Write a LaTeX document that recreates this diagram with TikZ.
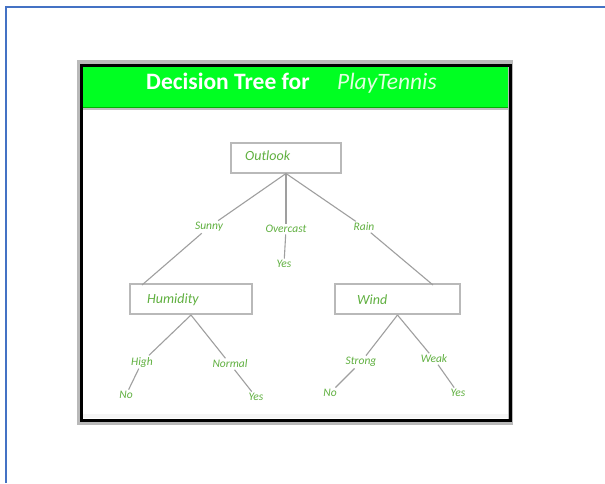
\documentclass[tikz,border=0pt]{standalone}
\usepackage{fontspec}
\setmainfont{Carlito}
\definecolor{lblgreen}{RGB}{96,176,64}
\definecolor{pageblue}{RGB}{68,114,196}
\definecolor{bandgreen}{RGB}{0,255,34}
\begin{document}
\begin{tikzpicture}[x=1pt,y=-1pt,
  attr/.style={draw=gray!55,line width=2pt,minimum width=#1,minimum height=30,inner sep=0pt},
  lbl/.style={text=lblgreen,font=\itshape\fontsize{11.5}{13}\selectfont,inner sep=1.5pt},
  ttl/.style={text=lblgreen,font=\itshape\fontsize{14}{16}\selectfont,inner sep=0pt},
  edge/.style={draw=gray!75,line width=1.1pt}]
\useasboundingbox (0,0) rectangle (605,483);
\fill[white] (0,0) rectangle (605,483);
% blue page frame
\draw[pageblue,line width=2.2pt] (6,483) -- (6,7) -- (605,7);
% outer frame
\fill[gray!55] (77,60) rectangle (513,425);
\fill[white] (82,66) rectangle (508,419);
\fill[gray!8] (82,414) rectangle (508,418);
\fill[bandgreen] (82,66) rectangle (508,107);
\draw[green!70!black,line width=1pt] (82,107) -- (508,107);
\draw[gray!50,line width=1.2pt] (82,109) -- (508,109);
\draw[black,line width=3pt] (81,65) rectangle (510,420);
\node[text=white,font=\bfseries\fontsize{23.5}{26}\selectfont,anchor=base west,inner sep=0pt] (title1) at (146,89) {Decision Tree for};
\node[text=white!88!green,font=\itshape\fontsize{23.5}{26}\selectfont,anchor=base west,inner sep=0pt] (title2) at (337,89) {PlayTennis};
% attribute boxes
\node[attr=110] (outlook) at (286,157.5) {};
\node[ttl,anchor=west] (outlookt) at (245,156) {Outlook};
\node[attr=122] (humidity) at (191,299) {};
\node[ttl,anchor=west] (humidityt) at (147,300) {Humidity};
\node[attr=125] (wind) at (397.5,299) {};
\node[ttl,anchor=west] (windt) at (357,300) {Wind};
% branch labels
\node[lbl] (sunny) at (209,227) {Sunny};
\node[lbl] (overcast) at (286,229) {Overcast};
\node[lbl] (yes1) at (284,264) {Yes};
\node[lbl] (rain) at (364,227) {Rain};
\node[lbl] (high) at (142,362) {High};
\node[lbl] (no1) at (126,395) {No};
\node[lbl] (normal) at (230,364) {Normal};
\node[lbl] (yes2) at (256,397) {Yes};
\node[lbl] (strong) at (361,362) {Strong};
\node[lbl] (no2) at (330,393) {No};
\node[lbl] (weak) at (434,359) {Weak};
\node[lbl] (yes3) at (458,393) {Yes};
\coordinate (hl) at (142,285);
\coordinate (wr) at (433,285);
% edges
\draw[edge] (outlook.south) -- (sunny);
\draw[edge] (sunny) -- (hl);
\draw[edge] (outlook.south) -- (overcast);
\draw[edge] (overcast) -- (yes1);
\draw[edge] (outlook.south) -- (rain);
\draw[edge] (rain) -- (wr);
\draw[edge] (humidity.south) -- (high);
\draw[edge] (high) -- (no1);
\draw[edge] (humidity.south) -- (normal);
\draw[edge] (normal) -- (yes2);
\draw[edge] (wind.south) -- (strong);
\draw[edge] (strong) -- (no2);
\draw[edge] (wind.south) -- (weak);
\draw[edge] (weak) -- (yes3);
\end{tikzpicture}
\end{document}
